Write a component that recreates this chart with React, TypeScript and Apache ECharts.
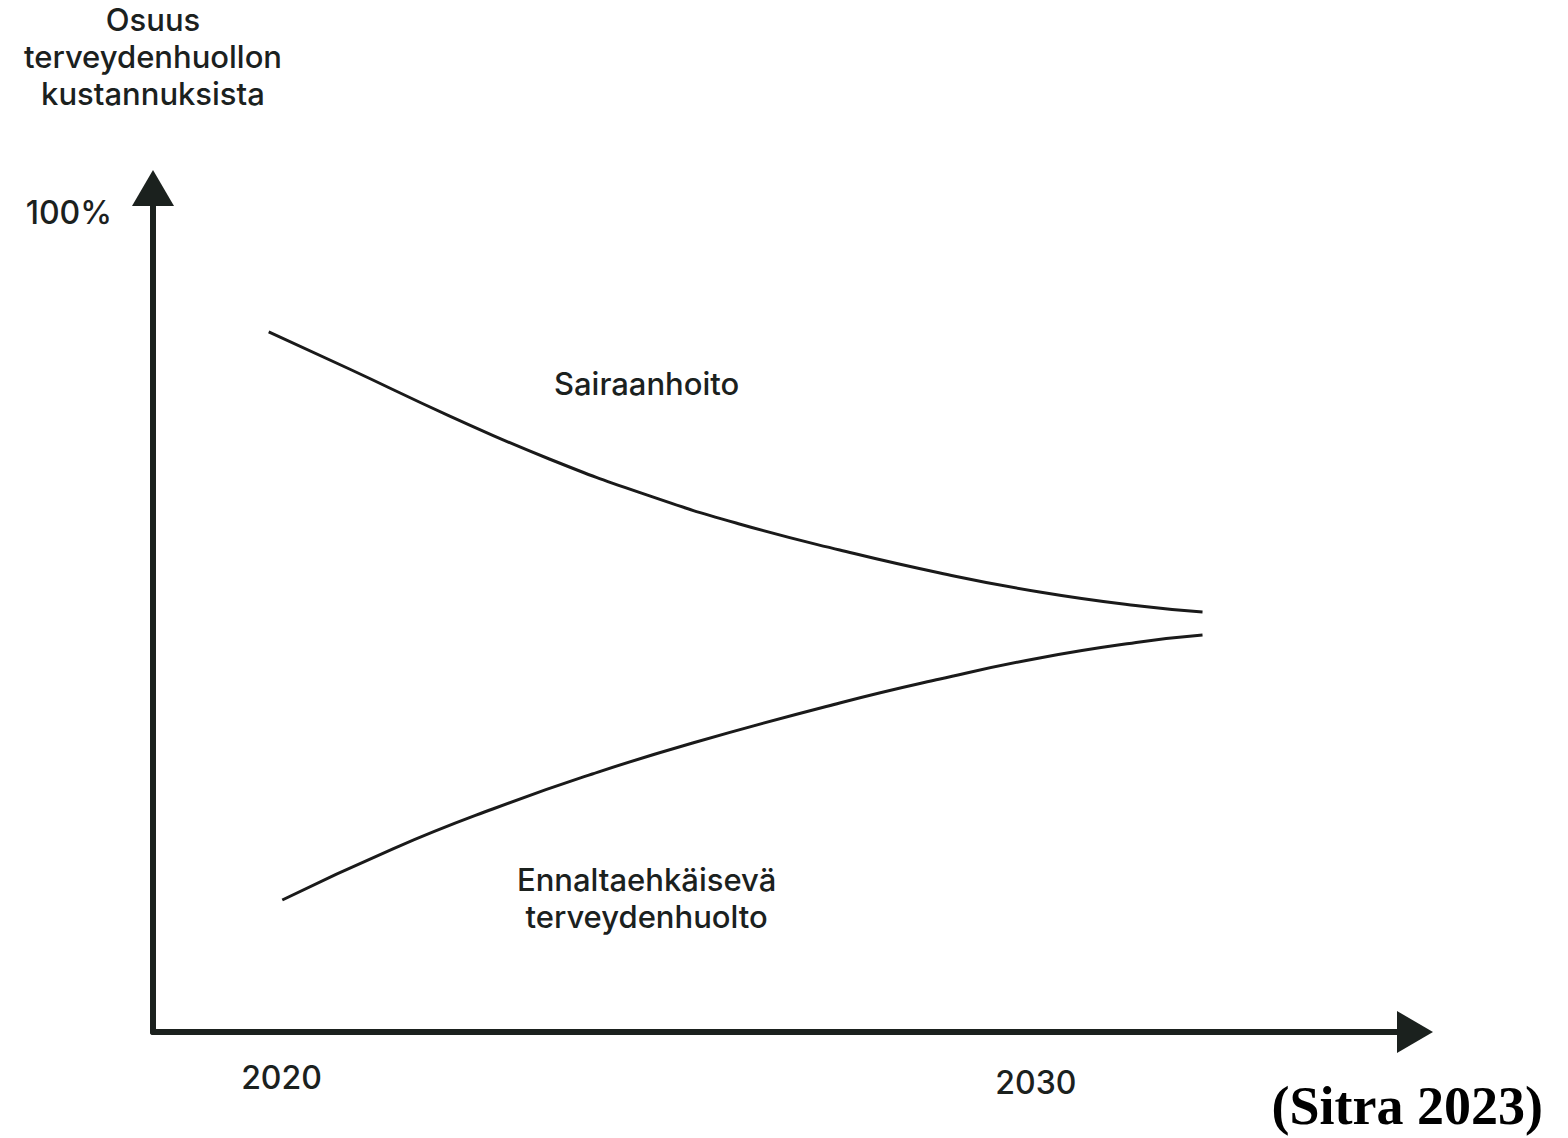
import React, { useEffect, useRef } from "react";
import * as echarts from "echarts";

// Year positions (x) and share of health-care costs in % (y)
const careYears = [2019.83, 2020.9, 2022.23, 2023.55, 2024.88, 2026.07, 2027.4, 2028.73, 2030.05, 2031.38, 2032.21];
const careShare = [85.47, 80.95, 75.21, 69.96, 65.45, 62.03, 58.85, 56.04, 53.72, 52.01, 51.28];

const preventYears = [2020.01, 2021.47, 2022.8, 2024.12, 2025.45, 2027.4, 2028.73, 2030.05, 2031.38, 2032.21];
const preventShare = [16.12, 22.34, 27.23, 31.5, 35.29, 40.17, 43.1, 45.67, 47.62, 48.47];

const xTickValues = [2020, 2030];
const yTickValues = [100];

const seriesNames = ["Sairaanhoito", "Ennaltaehkäisevä\nterveydenhuolto"];
const seriesLabelX = [2024.84, 2024.84];
const seriesLabelY = [79.2, 16.3];

const yAxisTitle = "Osuus\nterveydenhuollon\nkustannuksista";
const sourceText = "(Sitra 2023)";

const INK = "#1b211e";
const FONT = "Inter, 'Noto Sans', sans-serif";
const TEXT_SIZE = 31;
const NUM_SIZE = 32;

export default function App() {
  const ref = useRef<HTMLDivElement>(null);

  useEffect(() => {
    if (!ref.current) return;
    const chart = echarts.init(ref.current, undefined, { renderer: "svg" });
    const option = {
      animation: false,
      backgroundColor: "#ffffff",
      grid: { left: 153, right: 153, top: 188, bottom: 106, containLabel: false },
      xAxis: {
        type: "value",
        min: 2018.296,
        max: 2035.027,
        axisLine: {
          show: true,
          symbol: ["none", "triangle"],
          symbolSize: [42, 36],
          lineStyle: { color: INK, width: 6 },
        },
        axisTick: { show: false },
        splitLine: { show: false },
        axisLabel: {
          show: true,
          customValues: xTickValues,
          margin: 29,
          formatter: (v: number) => (v === 2030 ? `{b|${v}}` : `{a|${v}}`),
          rich: {
            a: { fontSize: NUM_SIZE, fontFamily: FONT, fontWeight: 500, color: INK },
            b: { fontSize: NUM_SIZE, fontFamily: FONT, fontWeight: 500, color: INK, padding: [5, 0, 0, 0] },
          },
        },
      },
      yAxis: {
        type: "value",
        min: 0,
        max: 103.05,
        name: yAxisTitle,
        nameLocation: "end",
        nameGap: 76,
        nameTextStyle: {
          fontSize: TEXT_SIZE,
          lineHeight: 37,
          fontFamily: FONT,
          fontWeight: 500,
          color: INK,
          align: "center",
          verticalAlign: "bottom",
        },
        axisLine: {
          show: true,
          symbol: ["none", "triangle"],
          symbolSize: [42, 36],
          lineStyle: { color: INK, width: 6 },
        },
        axisTick: { show: false },
        splitLine: { show: false },
        axisLabel: {
          show: true,
          customValues: yTickValues,
          margin: 41,
          formatter: "{value}%",
          fontSize: NUM_SIZE,
          fontFamily: FONT,
          fontWeight: 500,
          color: INK,
        },
      },
      series: [
        {
          type: "line",
          name: "Sairaanhoito",
          smooth: true,
          showSymbol: false,
          data: careYears.map((x, i) => [x, careShare[i]]),
          lineStyle: { color: "#1a1a1a", width: 3 },
          silent: true,
        },
        {
          type: "line",
          name: "Ennaltaehkäisevä terveydenhuolto",
          smooth: true,
          showSymbol: false,
          data: preventYears.map((x, i) => [x, preventShare[i]]),
          lineStyle: { color: "#1a1a1a", width: 3 },
          silent: true,
        },
        {
          type: "scatter",
          symbolSize: 0,
          silent: true,
          itemStyle: { color: "transparent", opacity: 1 },
          data: seriesNames.map((n, i) => ({ value: [seriesLabelX[i], seriesLabelY[i]], name: n })),
          label: {
            show: true,
            position: "inside",
            formatter: (p: any) => p.name,
            fontSize: TEXT_SIZE,
            lineHeight: 37,
            fontFamily: FONT,
            fontWeight: 500,
            color: INK,
            opacity: 1,
            textBorderWidth: 0,
            align: "center",
            verticalAlign: "middle",
          },
        },
      ],
      graphic: [
        {
          type: "text",
          x: 1543,
          y: 1106,
          style: {
            text: sourceText,
            font: "bold 54px 'Liberation Serif', serif",
            fill: "#000000",
            textAlign: "right",
            textVerticalAlign: "middle",
          },
        },
      ],
    };
    chart.setOption(option as any);
    return () => chart.dispose();
  }, []);

  return (
    <div
      ref={ref}
      style={{ position: "fixed", left: 0, top: 0, width: 1568, height: 1138, background: "#fff" }}
    />
  );
}
